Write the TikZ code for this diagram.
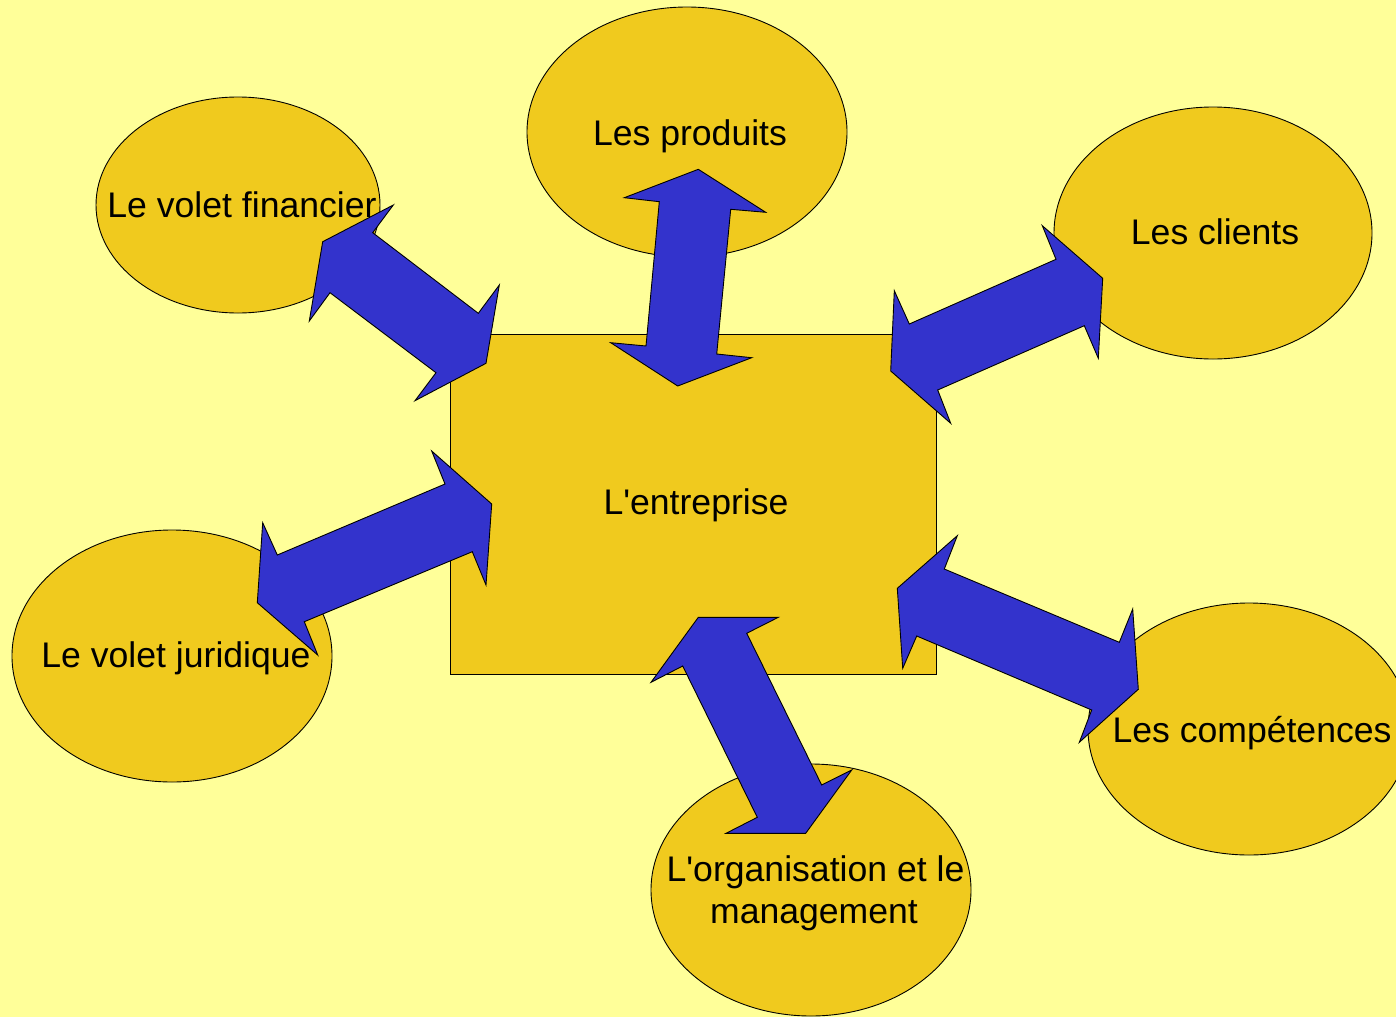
\documentclass[tikz,border=0pt]{standalone}
\usepackage{fontspec}
\setmainfont{Liberation Sans}[Ligatures=TeXOff]
\definecolor{bgyellow}{RGB}{255,255,153}
\definecolor{gold}{RGB}{240,202,30}
\definecolor{arrowblue}{RGB}{51,51,204}
\begin{document}
\begin{tikzpicture}[x=1pt,y=-1pt,
  shape outline/.style={draw=black,line width=0.9pt},
  topic/.style={shape outline,fill=gold},
  box/.style={shape outline,fill=gold,rectangle,inner sep=0pt,
    minimum width=486pt,minimum height=340pt},
  blockarrow/.style={shape outline,fill=arrowblue},
  label/.style={inner sep=0pt,anchor=base,text=black,
    font=\fontsize{35.6}{42}\selectfont}]
\useasboundingbox (0,0) rectangle (1396,1017);
\fill[bgyellow] (0,0) rectangle (1396,1017);

% central box
\node[box] (ent) at (693,504) {};

% topic ellipses
\path[topic] (238,205) ellipse [x radius=142, y radius=108];
\path[topic] (687,132) ellipse [x radius=160, y radius=125];
\path[topic] (1213,233) ellipse [x radius=159, y radius=126];
\path[topic] (172,656) ellipse [x radius=160, y radius=126];
\path[topic] (1249,729) ellipse [x radius=161, y radius=126];
\path[topic] (811,890) ellipse [x radius=160, y radius=126];

% double block arrows
\draw[blockarrow] (393.3,205.0) -- (372.7,232.7) -- (478.3,313.3) -- (499.3,285.0)
  -- (486.0,363.3) -- (415.0,400.7) -- (436.0,372.7) -- (330.0,292.7)
  -- (309.3,321.0) -- (322.7,241.7) -- cycle;
\draw[blockarrow] (698.3,169.3) -- (765.7,212.3) -- (730.7,209.3) -- (716.7,354)
  -- (751.7,357.7) -- (677.7,386) -- (610.7,342.7) -- (646,346)
  -- (659.3,201.7) -- (624.3,197.7) -- cycle;
\draw[blockarrow] (1042.3,225.7) -- (1056,259.3) -- (909.3,324) -- (894.3,290.7)
  -- (890.7,371) -- (950.7,423.3) -- (937.7,390) -- (1084.3,325.7)
  -- (1098.3,358.3) -- (1102.7,278.3) -- cycle;
\draw[blockarrow] (431.7,451) -- (445,484) -- (277.3,555) -- (262.7,522.7)
  -- (257.3,602.7) -- (317.7,655) -- (304.3,621.7) -- (472.3,551.7)
  -- (486,585) -- (491.7,504) -- cycle;
\draw[blockarrow] (957.3,535.7) -- (944.3,569) -- (1119.3,642.3) -- (1132.7,609)
  -- (1138.3,689.3) -- (1079.3,742.3) -- (1091.7,710) -- (916.7,636)
  -- (902.7,668.3) -- (897.3,588.3) -- cycle;
\draw[blockarrow] (698.3,617.3) -- (778.3,617.3) -- (746.7,633.3) -- (821.7,785)
  -- (851.7,770) -- (805.7,833.3) -- (726,833.3) -- (757.3,817.3)
  -- (682.7,666) -- (651,682.3) -- cycle;

% labels
\node[label] (tfin) at (242,217) {Le volet financier};
\node[label] (tprod) at (690,145) {Les produits};
\node[label] (tcli) at (1215,244) {Les clients};
\node[label] (tent) at (696,514) {L'entreprise};
\node[label] (tjur) at (176,667) {Le volet juridique};
\node[label] (tcomp) at (1252,742) {Les compétences};
\node[label] (torga) at (815.5,881.7) {L'organisation et le};
\node[label] (torgb) at (814,923) {management};
\end{tikzpicture}
\end{document}
